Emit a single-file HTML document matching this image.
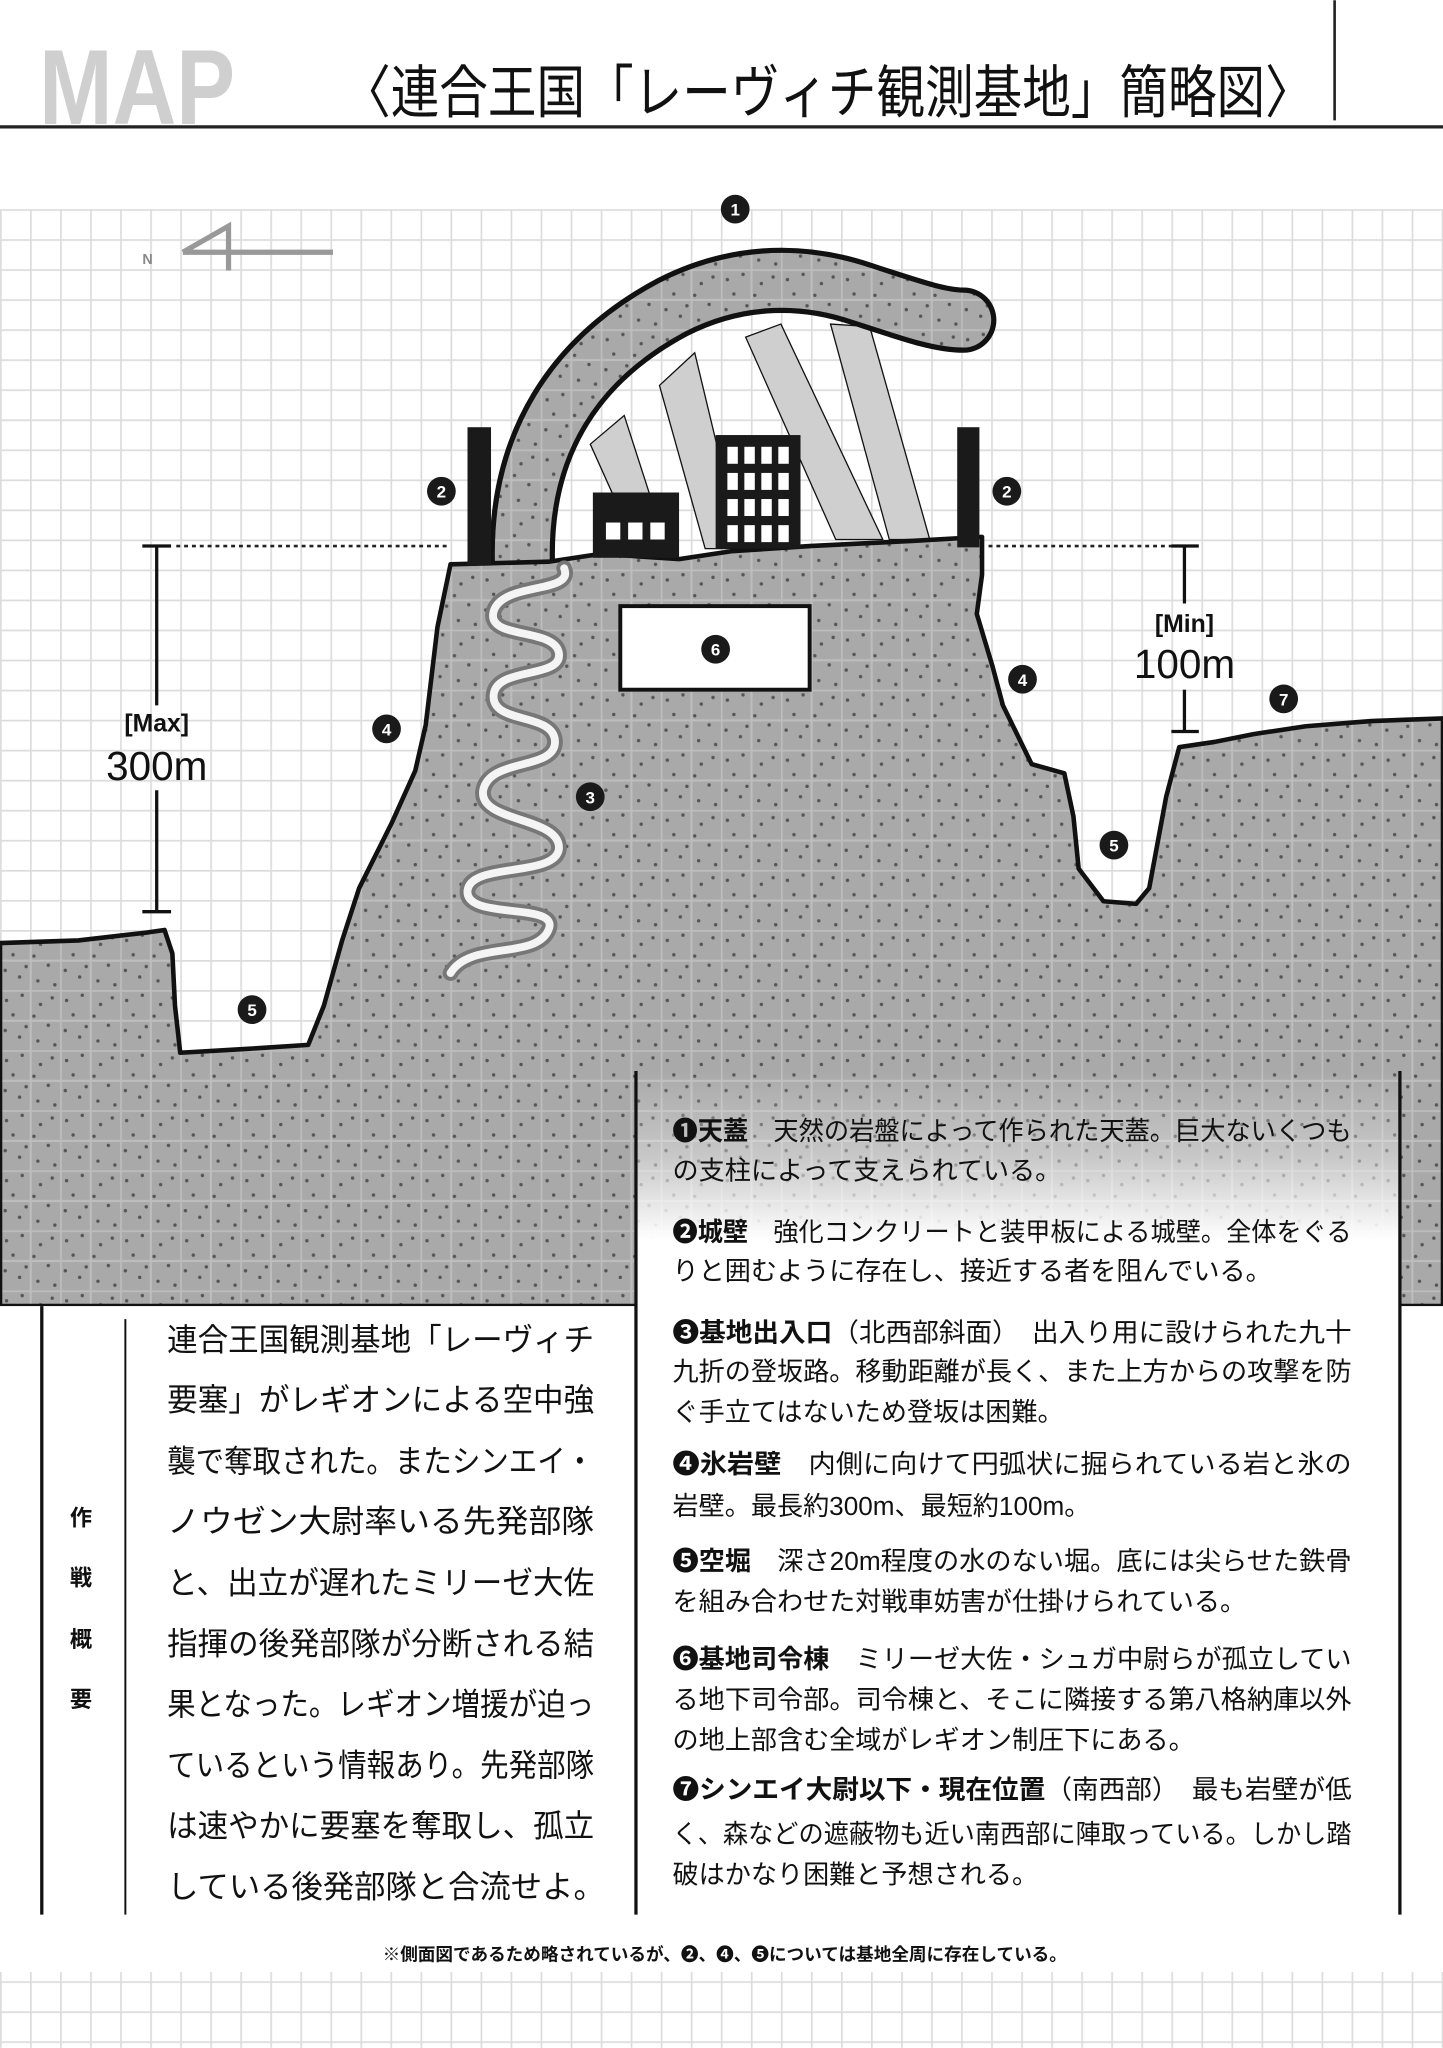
<!DOCTYPE html>
<html><head><meta charset="utf-8"><style>
html,body{margin:0;padding:0;background:#fff}
svg{display:block}
text{font-family:"Liberation Sans","Noto Sans CJK JP",sans-serif}
.jp{font-family:"Liberation Serif","Noto Serif CJK SC","Noto Sans CJK JP",serif}
</style></head><body>
<svg width="1443" height="2048" viewBox="0 0 1105 1568" xmlns="http://www.w3.org/2000/svg">
<defs>
<pattern id="grid" width="23" height="23" patternUnits="userSpaceOnUse" x="0" y="160">
<rect width="23" height="23" fill="#fff"/>
<path d="M0 0.5H23M0.5 0V23" stroke="#dcdcdc" stroke-width="1.6" fill="none"/>
</pattern>
<pattern id="rock" width="46" height="46" patternUnits="userSpaceOnUse" x="0" y="160">
<rect width="46" height="46" fill="#a9a9a9"/>
<path d="M0 0.5H46M0 23.5H46M0.5 0V46M23.5 0V46" stroke="#bdbdbd" stroke-width="1.6" fill="none"/>
<g fill="#555"><circle cx="5" cy="8" r="1.3"/><circle cx="17" cy="4" r="1.3"/><circle cx="31" cy="11" r="1.3"/><circle cx="40" cy="6" r="1.3"/><circle cx="10" cy="19" r="1.3"/><circle cx="26" cy="20" r="1.3"/><circle cx="37" cy="27" r="1.3"/><circle cx="4" cy="31" r="1.3"/><circle cx="15" cy="36" r="1.3"/><circle cx="29" cy="39" r="1.3"/><circle cx="42" cy="42" r="1.3"/><circle cx="20" cy="28" r="1.3"/></g>
</pattern>
<linearGradient id="fade" x1="0" y1="0" x2="0" y2="1">
<stop offset="0" stop-color="#fff" stop-opacity="0"/>
<stop offset="0.1" stop-color="#fff" stop-opacity="0.35"/>
<stop offset="0.2" stop-color="#fff" stop-opacity="1"/>
<stop offset="1" stop-color="#fff" stop-opacity="1"/>
</linearGradient>
</defs>

<!-- header -->
<text x="30" y="95" font-size="82" font-weight="bold" fill="#cfcfcf" textLength="150" lengthAdjust="spacingAndGlyphs">MAP</text>
<text x="262" y="86" font-size="44" fill="#111" textLength="744" lengthAdjust="spacingAndGlyphs">〈連合王国「レーヴィチ観測基地」簡略図〉</text>
<line x1="1022" y1="0" x2="1022" y2="92" stroke="#222" stroke-width="2"/>
<line x1="0" y1="97" x2="1105" y2="97" stroke="#222" stroke-width="2.5"/>

<!-- grid backgrounds -->
<rect x="0" y="160" width="1105" height="845" fill="url(#grid)"/>
<rect x="0" y="1510" width="1105" height="58" fill="url(#grid)"/>

<!-- N arrow -->
<text x="109" y="202" font-size="11" font-weight="bold" fill="#888">N</text>
<path d="M140 193 L175 173 L175 207 M140 193 H255" stroke="#999" stroke-width="4" fill="none"/>

<!-- pillars -->
<g fill="#cfcfcf" stroke="#111" stroke-width="1">
<polygon points="452,340 478,318 498,380 470,380"/>
<polygon points="505,295 532,270 568,420 540,420"/>
<polygon points="571,258 598,248 676,413 640,413"/>
<polygon points="636,248 666,250 712,413 681,413"/>
</g>

<!-- arch -->
<path d="M400 430 C398 340 440 275 515 235 C560 212 610 208 660 225 C700 238 720 245 738 245" stroke="#111" stroke-width="50" fill="none" stroke-linecap="round"/>
<path d="M400 430 C398 340 440 275 515 235 C560 212 610 208 660 225 C700 238 720 245 738 245" stroke="url(#rock)" stroke-width="42" fill="none" stroke-linecap="round"/>

<!-- terrain -->
<path d="M0 722 L60 720 L112 714 L126 712 L132 730 L134 770 L138 806 L190 803 L236 800 L248 770 L262 720 L275 680 L300 630 L318 590 L326 555 L335 480 L345 432 L420 430 L460 424 L520 428 L560 422 L620 418 L700 414 L752 411 L752 440 L748 470 L760 510 L768 540 L790 585 L815 592 L822 625 L826 665 L845 690 L870 692 L880 680 L893 610 L903 572 L930 568 L960 562 L1000 556 L1050 552 L1105 550 L1105 1000 L0 1000 Z" fill="url(#rock)" stroke="#111" stroke-width="3.5" stroke-linejoin="round"/>

<!-- walls -->
<rect x="358" y="327" width="18" height="106" fill="#1a1a1a"/>
<rect x="733" y="327" width="17" height="92" fill="#1a1a1a"/>

<!-- buildings -->
<rect x="454" y="377" width="66" height="50" fill="#1a1a1a"/>
<g fill="#fff"><rect x="464" y="400" width="11" height="13"/><rect x="481" y="400" width="11" height="13"/><rect x="498" y="400" width="11" height="13"/></g>
<rect x="548" y="333" width="65" height="87" fill="#1a1a1a"/>
<g fill="#fff">
<rect x="557" y="342" width="8" height="13"/><rect x="570" y="342" width="8" height="13"/><rect x="583" y="342" width="8" height="13"/><rect x="596" y="342" width="8" height="13"/>
<rect x="557" y="362" width="8" height="13"/><rect x="570" y="362" width="8" height="13"/><rect x="583" y="362" width="8" height="13"/><rect x="596" y="362" width="8" height="13"/>
<rect x="557" y="382" width="8" height="13"/><rect x="570" y="382" width="8" height="13"/><rect x="583" y="382" width="8" height="13"/><rect x="596" y="382" width="8" height="13"/>
<rect x="557" y="402" width="8" height="13"/><rect x="570" y="402" width="8" height="13"/><rect x="583" y="402" width="8" height="13"/><rect x="596" y="402" width="8" height="13"/>
</g>

<!-- serpentine road -->
<path d="M432 435 C440 455 385 445 378 468 C372 490 425 480 428 500 C431 520 380 510 378 532 C376 555 425 545 425 568 C425 590 375 580 370 605 C366 630 430 625 428 650 C425 672 360 660 358 682 C356 705 430 690 420 712 C410 735 360 720 345 745" stroke="#777" stroke-width="12" fill="none" stroke-linecap="round"/>
<path d="M432 435 C440 455 385 445 378 468 C372 490 425 480 428 500 C431 520 380 510 378 532 C376 555 425 545 425 568 C425 590 375 580 370 605 C366 630 430 625 428 650 C425 672 360 660 358 682 C356 705 430 690 420 712 C410 735 360 720 345 745" stroke="#f4f4f4" stroke-width="6" fill="none" stroke-linecap="round"/>

<!-- command building -->
<rect x="475" y="464" width="145" height="64" fill="#fff" stroke="#111" stroke-width="3"/>

<!-- dimension lines -->
<line x1="135" y1="418" x2="345" y2="418" stroke="#222" stroke-width="2" stroke-dasharray="3,3"/>
<line x1="757" y1="418" x2="910" y2="418" stroke="#222" stroke-width="2" stroke-dasharray="3,3"/>
<g stroke="#111" stroke-width="2.5">
<line x1="120" y1="418" x2="120" y2="540"/><line x1="120" y1="605" x2="120" y2="698"/>
<line x1="109" y1="418" x2="131" y2="418"/><line x1="109" y1="698" x2="131" y2="698"/>
<line x1="907" y1="418" x2="907" y2="462"/><line x1="907" y1="528" x2="907" y2="560"/>
<line x1="897" y1="418" x2="918" y2="418"/><line x1="897" y1="560" x2="918" y2="560"/>
</g>
<g fill="#111" text-anchor="middle">
<text x="120" y="560" font-size="19" font-weight="bold">[Max]</text>
<text x="120" y="597" font-size="31">300m</text>
<text x="907" y="484" font-size="19" font-weight="bold">[Min]</text>
<text x="907" y="519" font-size="31">100m</text>
</g>

<!-- markers -->
<g font-size="13" font-weight="bold" text-anchor="middle" fill="#fff">
<circle cx="563" cy="160" r="11" fill="#1a1a1a"/><text x="563" y="165">1</text>
<circle cx="338" cy="376" r="11" fill="#1a1a1a"/><text x="338" y="381">2</text>
<circle cx="771" cy="376" r="11" fill="#1a1a1a"/><text x="771" y="381">2</text>
<circle cx="296" cy="558" r="11" fill="#1a1a1a"/><text x="296" y="563">4</text>
<circle cx="783" cy="520" r="11" fill="#1a1a1a"/><text x="783" y="525">4</text>
<circle cx="452" cy="610" r="11" fill="#1a1a1a"/><text x="452" y="615">3</text>
<circle cx="193" cy="773" r="11" fill="#1a1a1a"/><text x="193" y="778">5</text>
<circle cx="853" cy="647" r="11" fill="#1a1a1a"/><text x="853" y="652">5</text>
<circle cx="983" cy="535" r="11" fill="#1a1a1a"/><text x="983" y="540">7</text>
<circle cx="548" cy="497" r="11" fill="#1a1a1a"/><text x="548" y="502">6</text>
</g>

<!-- lower white areas -->
<rect x="0" y="1000" width="487" height="470" fill="#fff"/>
<rect x="1072" y="1000" width="33" height="470" fill="#fff"/>
<rect x="487" y="820" width="585" height="650" fill="url(#fade)"/>
<line x1="487" y1="820" x2="487" y2="1466" stroke="#111" stroke-width="2.5"/>
<line x1="1072" y1="820" x2="1072" y2="1466" stroke="#111" stroke-width="2.5"/>

<!-- right description -->
<g class="jp" font-size="20" fill="#111">
<text x="515" y="873" textLength="520" lengthAdjust="spacingAndGlyphs"><tspan font-weight="bold">❶天蓋</tspan>　天然の岩盤によって作られた天蓋。巨大ないくつも</text>
<text x="515" y="903">の支柱によって支えられている。</text>
<text x="515" y="950" textLength="520" lengthAdjust="spacingAndGlyphs"><tspan font-weight="bold">❷城壁</tspan>　強化コンクリートと装甲板による城壁。全体をぐる</text>
<text x="515" y="980">りと囲むように存在し、接近する者を阻んでいる。</text>
<text x="515" y="1027" textLength="520" lengthAdjust="spacingAndGlyphs"><tspan font-weight="bold">❸基地出入口</tspan>（北西部斜面）　出入り用に設けられた九十</text>
<text x="515" y="1057" textLength="520" lengthAdjust="spacingAndGlyphs">九折の登坂路。移動距離が長く、また上方からの攻撃を防</text>
<text x="515" y="1088">ぐ手立てはないため登坂は困難。</text>
<text x="515" y="1128" textLength="520" lengthAdjust="spacingAndGlyphs"><tspan font-weight="bold">❹氷岩壁</tspan>　内側に向けて円弧状に掘られている岩と氷の</text>
<text x="515" y="1160">岩壁。最長約300m、最短約100m。</text>
<text x="515" y="1202" textLength="520" lengthAdjust="spacingAndGlyphs"><tspan font-weight="bold">❺空堀</tspan>　深さ20m程度の水のない堀。底には尖らせた鉄骨</text>
<text x="515" y="1233">を組み合わせた対戦車妨害が仕掛けられている。</text>
<text x="515" y="1277" textLength="520" lengthAdjust="spacingAndGlyphs"><tspan font-weight="bold">❻基地司令棟</tspan>　ミリーゼ大佐・シュガ中尉らが孤立してい</text>
<text x="515" y="1308" textLength="520" lengthAdjust="spacingAndGlyphs">る地下司令部。司令棟と、そこに隣接する第八格納庫以外</text>
<text x="515" y="1339">の地上部含む全域がレギオン制圧下にある。</text>
<text x="515" y="1377" textLength="520" lengthAdjust="spacingAndGlyphs"><tspan font-weight="bold">❼シンエイ大尉以下・現在位置</tspan>（南西部）　最も岩壁が低</text>
<text x="515" y="1411" textLength="520" lengthAdjust="spacingAndGlyphs">く、森などの遮蔽物も近い南西部に陣取っている。しかし踏</text>
<text x="515" y="1442">破はかなり困難と予想される。</text>
</g>

<!-- left summary -->
<line x1="32" y1="1000" x2="32" y2="1466" stroke="#111" stroke-width="2.5"/>
<line x1="96" y1="1010" x2="96" y2="1466" stroke="#111" stroke-width="1.5"/>
<g font-size="17" font-weight="bold" fill="#111" text-anchor="middle">
<text x="62" y="1168">作</text><text x="62" y="1214">戦</text><text x="62" y="1261">概</text><text x="62" y="1307">要</text>
</g>
<g class="jp" font-size="24" fill="#111">
<text x="128" y="1034" textLength="327" lengthAdjust="spacingAndGlyphs">連合王国観測基地「レーヴィチ</text>
<text x="128" y="1080" textLength="327" lengthAdjust="spacingAndGlyphs">要塞」がレギオンによる空中強</text>
<text x="128" y="1127" textLength="327" lengthAdjust="spacingAndGlyphs">襲で奪取された。またシンエイ・</text>
<text x="128" y="1173" textLength="327" lengthAdjust="spacingAndGlyphs">ノウゼン大尉率いる先発部隊</text>
<text x="128" y="1220" textLength="327" lengthAdjust="spacingAndGlyphs">と、出立が遅れたミリーゼ大佐</text>
<text x="128" y="1267" textLength="327" lengthAdjust="spacingAndGlyphs">指揮の後発部隊が分断される結</text>
<text x="128" y="1313" textLength="327" lengthAdjust="spacingAndGlyphs">果となった。レギオン増援が迫っ</text>
<text x="128" y="1360" textLength="327" lengthAdjust="spacingAndGlyphs">ているという情報あり。先発部隊</text>
<text x="128" y="1406" textLength="327" lengthAdjust="spacingAndGlyphs">は速やかに要塞を奪取し、孤立</text>
<text x="128" y="1453">している後発部隊と合流せよ。</text>
</g>

<text x="555" y="1501" font-size="13.5" font-weight="bold" fill="#111" text-anchor="middle">※側面図であるため略されているが、❷、❹、❺については基地全周に存在している。</text>
</svg>
</body></html>
